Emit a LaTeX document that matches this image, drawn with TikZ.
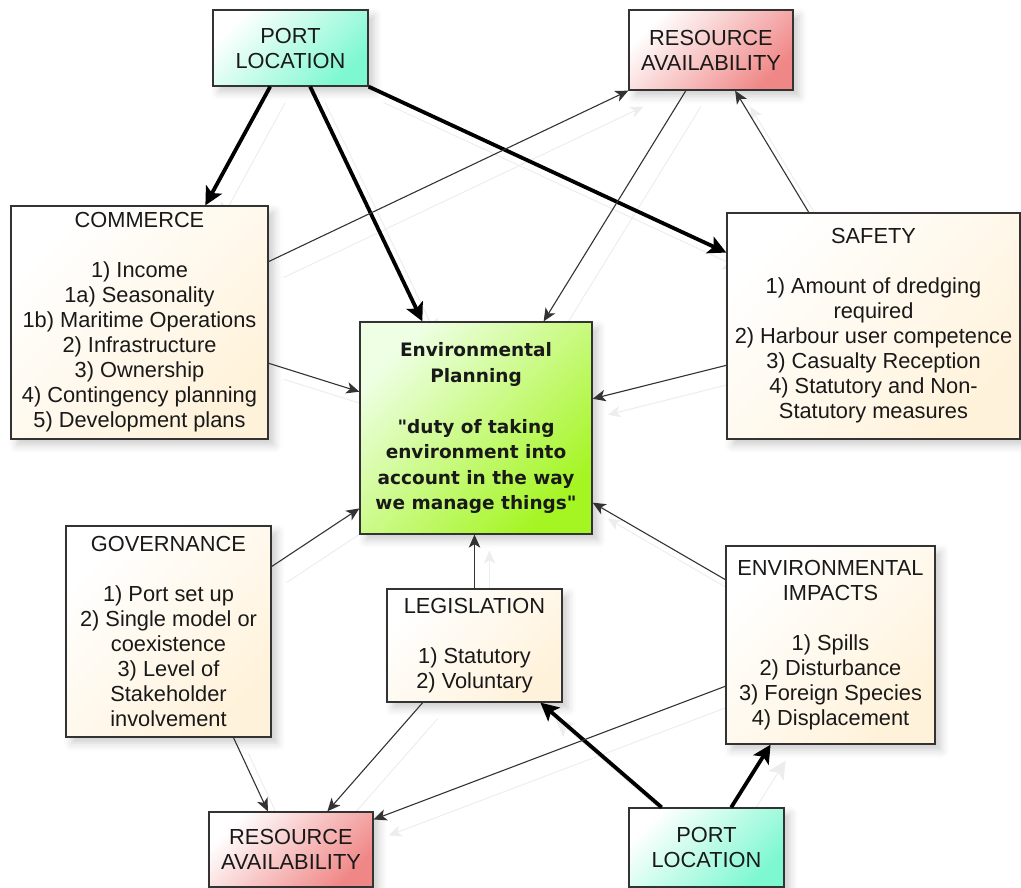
\documentclass[tikz,border=0pt]{standalone}
\usepackage{fontspec}
\setmainfont{Liberation Sans}
\newfontfamily\planfont{DejaVu Sans}
\usetikzlibrary{arrows.meta,calc,shadows.blur}
\pgfdeclarelayer{bg}
\pgfsetlayers{bg,main}

\definecolor{portc}{RGB}{125,248,208}
\definecolor{resc}{RGB}{240,135,135}
\definecolor{creamc}{RGB}{255,242,218}
\definecolor{planc}{RGB}{165,245,35}
\definecolor{plantop}{RGB}{238,255,228}

\tikzset{
  box/.style={draw=black!80, line width=1.3pt, inner sep=0pt, align=center,
    text=black!90, font=\fontsize{21.8}{25}\selectfont,
    blur shadow={shadow xshift=6pt, shadow yshift=-6pt, shadow blur radius=8pt, shadow opacity=20}},
  portbox/.style={box, top color=white, bottom color=portc, shading angle=45},
  resbox/.style={box, top color=white, bottom color=resc, shading angle=45},
  creambox/.style={box, top color=white, bottom color=creamc, shading angle=45},
  planbox/.style={box, top color=plantop, bottom color=planc, shading angle=45,
    font=\planfont\bfseries\fontsize{18.5}{25.5}\selectfont},
  thinlink/.style={draw=black!80, line width=1.1pt, -{Stealth[length=13pt,width=11.5pt,inset=3.5pt]}},
  thicklink/.style={draw=black, line width=3.8pt, -{Stealth[length=18pt,width=18pt,inset=4pt]}},
  ghost/.style={draw=black!7, line width=1pt, transform canvas={shift={(15pt,-16pt)}}},
}

% a connector together with its faint offset echo behind the boxes
\newcommand\linkpair[3]{%
  \begin{pgfonlayer}{bg}\draw[#1,ghost] #2 -- #3;\end{pgfonlayer}
  \draw[#1] #2 -- #3;}

\begin{document}
\begin{tikzpicture}[x=1pt,y=-1pt]
\useasboundingbox (0,0) rectangle (1021,888);

% boxes
\node[portbox, minimum width=155pt, minimum height=76pt] (portT) at (290.5,48) {PORT\\LOCATION};
\node[resbox, minimum width=164pt, minimum height=80pt] (resT) at (711,50) {RESOURCE\\AVAILABILITY};
\node[creambox, minimum width=257pt, minimum height=233pt] (commerce) at (139.5,322.5)
  {COMMERCE\\[25pt]1) Income\\1a) Seasonality\\1b) Maritime Operations\\2) Infrastructure\\3) Ownership\\4) Contingency planning\\5) Development plans};
\node[planbox, minimum width=232pt, minimum height=212pt] (plan) at (476,428)
  {Environmental\\Planning\\[25.5pt]"duty of taking\\environment into\\account in the way\\we manage things"};
\node[creambox, minimum width=293pt, minimum height=226pt] (safety) at (873.5,326)
  {SAFETY\\[25pt]1) Amount of dredging\\required\\2) Harbour user competence\\3) Casualty Reception\\4) Statutory and Non-\\Statutory measures};
\node[creambox, minimum width=205pt, minimum height=211pt] (gov) at (168.5,631.5)
  {GOVERNANCE\\[25pt]1) Port set up\\2) Single model or\\coexistence\\3) Level of\\Stakeholder\\involvement};
\node[creambox, minimum width=175pt, minimum height=113pt] (legis) at (474.5,645.5)
  {LEGISLATION\\[25pt]1) Statutory\\2) Voluntary};
\node[creambox, minimum width=209pt, minimum height=198pt] (impacts) at (830.5,645)
  {ENVIRONMENTAL\\IMPACTS\\[25pt]1) Spills\\2) Disturbance\\3) Foreign Species\\4) Displacement};
\node[resbox, minimum width=164pt, minimum height=75pt] (resB) at (291,849.5) {RESOURCE\\AVAILABILITY};
\node[portbox, minimum width=155pt, minimum height=79pt] (portB) at (706.5,847.5) {PORT\\LOCATION};

% thick links from the port location boxes
\linkpair{thicklink}{($(portT.south west)!0.37!(portT.south east)$)}{($(commerce.north west)!0.755!(commerce.north east)$)}
\linkpair{thicklink}{($(portT.south west)!0.626!(portT.south east)$)}{($(plan.north west)!0.27!(plan.north east)$)}
\linkpair{thicklink}{(portT.south east)}{($(safety.north west)!0.177!(safety.south west)$)}
\linkpair{thicklink}{($(portB.north west)!0.213!(portB.north east)$)}{($(legis.south west)!0.874!(legis.south east)$)}
\linkpair{thicklink}{($(portB.north west)!0.658!(portB.north east)$)}{($(impacts.south west)!0.215!(impacts.south east)$)}

% thin links
\linkpair{thinlink}{($(commerce.north east)!0.24!(commerce.south east)$)}{(resT.south west)}
\linkpair{thinlink}{($(resT.south west)!0.348!(resT.south east)$)}{($(plan.north west)!0.79!(plan.north east)$)}
\linkpair{thinlink}{($(safety.north west)!0.28!(safety.north east)$)}{($(resT.south west)!0.646!(resT.south east)$)}
\linkpair{thinlink}{($(commerce.north east)!0.674!(commerce.south east)$)}{($(plan.north west)!0.33!(plan.south west)$)}
\linkpair{thinlink}{($(safety.north west)!0.673!(safety.south west)$)}{($(plan.north east)!0.363!(plan.south east)$)}
\linkpair{thinlink}{($(gov.north east)!0.194!(gov.south east)$)}{($(plan.north west)!0.877!(plan.south west)$)}
\linkpair{thinlink}{(legis.north)}{(legis.north |- plan.south)}
\linkpair{thinlink}{($(impacts.north west)!0.172!(impacts.south west)$)}{($(plan.north east)!0.85!(plan.south east)$)}
\linkpair{thinlink}{($(gov.south west)!0.815!(gov.south east)$)}{($(resB.north west)!0.36!(resB.north east)$)}
\linkpair{thinlink}{($(legis.south west)!0.206!(legis.south east)$)}{($(resB.north west)!0.72!(resB.north east)$)}
\linkpair{thinlink}{($(impacts.north west)!0.707!(impacts.south west)$)}{($(resB.north east)!0.107!(resB.south east)$)}
\end{tikzpicture}
\end{document}
